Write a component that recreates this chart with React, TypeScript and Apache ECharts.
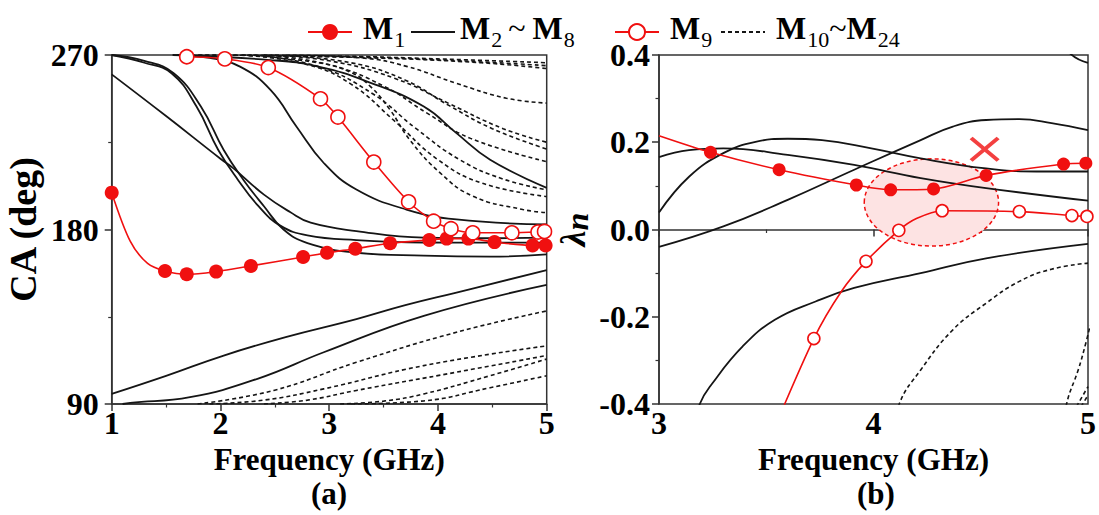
import React, { useEffect, useRef } from "react";
import * as echarts from "echarts";

const FONT = '"Liberation Serif", "Times New Roman", serif';

// ---------- Panel (a): CA (deg) vs Frequency (GHz) ----------
const xTicksA = [1, 2, 3, 4, 5];
const yTicksA = [90, 180, 270];
const m1A = [[1.0, 199], [1.17, 174], [1.33, 162.5], [1.49, 158.6], [1.69, 156.9], [1.96, 158.3], [2.28, 161.2], [2.76, 165.8], [2.98, 168], [3.24, 170.1], [3.56, 172.9], [3.92, 174.6], [4.08, 175.3], [4.28, 175.3], [4.52, 173.5], [4.87, 171.8], [4.99, 171.8]];
const m1APlain = [1.17, 1.33];
const m9A = [[1.69, 269.1], [2.04, 268], [2.44, 263.5], [2.92, 247.4], [3.08, 238], [3.41, 214.8], [3.73, 194.3], [3.96, 184.3], [4.12, 180.4], [4.32, 178.3], [4.68, 178.3], [4.92, 178.7], [4.98, 179]];
const solidA1 = [[1, 260], [1.5, 238.5], [2, 216.5], [2.12, 211.5], [2.4, 198], [2.64, 189], [2.83, 183.5], [3.25, 179.2], [3.87, 175.8], [4.5, 175.5], [5, 175.8]];
const solidA2 = [[1, 270], [1.3, 267], [1.57, 260.6], [1.82, 243.4], [2.03, 221], [2.21, 205.7], [2.4, 192], [2.58, 180], [2.8, 173], [3.25, 168], [3.87, 166.5], [4.48, 166], [5, 167.2]];
const solidA3 = [[1, 270], [1.3, 266], [1.55, 260.6], [1.78, 243.4], [1.98, 221], [2.16, 205.7], [2.35, 192], [2.55, 182], [2.8, 177], [3.25, 174.5], [3.87, 173.3], [5, 173.2]];
const solidA4 = [[1.56, 270], [1.9, 268.5], [2.18, 264], [2.46, 252], [2.7, 233], [2.95, 214.3], [3.25, 200.6], [3.71, 190.3], [4.17, 185.2], [5, 182.6]];
const solidA5 = [[1.6, 270], [2.46, 267.4], [2.9, 264], [3.35, 256.3], [3.87, 243.4], [4.17, 229.7], [4.48, 216], [5, 201.5]];
const solidA6 = [[1, 95.2], [1.5, 104.5], [2.03, 115], [2.6, 124.5], [3.25, 133.8], [3.7, 141], [4.17, 147.5], [5, 159]];
const solidA7 = [[1.1, 90], [1.17, 90.6], [1.72, 93.5], [2.34, 103], [2.95, 116.7], [3.87, 135.5], [5, 151.4]];
const dashA1 = [[1.6, 270], [3, 269.5], [4, 268], [5, 266]];
const dashA2 = [[1.8, 270], [3.2, 269], [4.2, 267], [5, 264.5]];
const dashA3 = [[2.0, 270], [3.4, 268.5], [4.4, 266], [5, 263]];
const dashA4 = [[2.6, 270], [3.3, 268.5], [3.72, 264], [4.17, 255.4], [4.63, 247.7], [5, 245.2]];
const dashA5 = [[2.5, 270], [3.2, 266], [3.7, 257], [4.1, 244], [4.5, 232], [5, 221.5]];
const dashA6 = [[2.4, 270], [3.0, 265], [3.5, 254], [3.9, 240], [4.3, 227], [5, 215]];
const dashA7 = [[2.3, 270], [2.9, 264], [3.4, 250], [3.8, 232], [4.2, 216], [4.6, 206], [5, 200.5]];
const dashA8 = [[2.2, 270], [2.8, 265], [3.2, 255], [3.6, 236], [4.0, 216], [4.4, 204], [5, 197]];
const dashA9 = [[2.2, 270], [2.9, 266], [3.2, 261], [3.38, 253.7], [3.56, 241.7], [3.74, 226.3], [4.02, 209.2], [4.32, 197.2], [4.78, 190.3], [5, 188.7]];
const dashA10 = [[2.4, 270], [3.0, 267], [3.6, 258], [4.1, 245], [4.6, 232], [5, 225]];
const dashA11 = [[1.79, 90], [2.49, 97], [3.25, 111.5], [4.17, 127], [5, 138]];
const dashA12 = [[1.9, 90], [2.4, 92], [2.95, 97.8], [3.87, 109.8], [5, 120]];
const dashA13 = [[2.4, 90], [2.8, 92], [3.25, 97], [4.17, 106.4], [5, 115]];
const dashA14 = [[3.1, 90], [3.5, 91.5], [3.87, 95.2], [4.48, 104.6], [5, 113.2]];
const dashA15 = [[3.2, 90], [3.87, 91.6], [4.48, 98.4], [5, 104.6]];

// ---------- Panel (b): lambda_n vs Frequency (GHz) ----------
const xTicksB = [3, 4, 5];
const yTicksB = [-0.4, -0.2, 0.0, 0.2, 0.4];
const m1B = [[3.0, 0.215], [3.24, 0.177], [3.56, 0.137], [3.92, 0.102], [4.08, 0.091], [4.28, 0.093], [4.525, 0.124], [4.886, 0.15], [4.99, 0.152]];
const m1BPlain = [3.0];
const m9B = [[3.5, -0.5], [3.722, -0.25], [3.85, -0.142], [3.965, -0.073], [4.118, -0.002], [4.2, 0.025], [4.32, 0.043], [4.68, 0.041], [4.925, 0.032], [4.995, 0.03]];
const m9BPlain = [3.5, 3.85, 4.2];
const solidB1 = [[3.0, 0.166], [3.14, 0.182], [3.3, 0.186], [3.6, 0.171], [3.91, 0.148], [4.22, 0.118], [4.525, 0.095], [5, 0.066]];
const solidB2 = [[3.0, 0.039], [3.14, 0.121], [3.3, 0.175], [3.45, 0.201], [3.6, 0.208], [3.76, 0.205], [3.99, 0.186], [4.22, 0.163], [4.525, 0.14], [4.76, 0.133], [5, 0.133]];
const solidB3 = [[3.0, -0.04], [3.3, 0.007], [3.6, 0.068], [3.91, 0.137], [4.22, 0.205], [4.37, 0.236], [4.525, 0.251], [4.68, 0.253], [4.83, 0.244], [5, 0.228]];
const solidB4 = [[4.85, 0.45], [4.92, 0.402], [5, 0.382]];
const solidB5 = [[3.13, -0.5], [3.19, -0.4], [3.25, -0.352], [3.39, -0.268], [3.54, -0.207], [3.73, -0.165], [3.91, -0.134], [4.22, -0.1], [4.525, -0.066], [5, -0.033]];
const dashB1 = [[4.08, -0.5], [4.12, -0.4], [4.22, -0.322], [4.37, -0.23], [4.525, -0.169], [4.68, -0.119], [4.83, -0.091], [5, -0.077]];
const dashB2 = [[4.87, -0.5], [4.9, -0.4], [4.955, -0.321], [4.99, -0.26], [5.01, -0.22]];
const dashB3 = [[4.93, -0.42], [5, -0.36]];
const dashB4 = [[4.95, -0.42], [5, -0.38]];
const crossMark = [[4.518, 0.184]];
// ellipse: centre f, centre lambda, half-width (GHz), half-height
const highlight = [[4.27, 0.062, 0.313, 0.1]];

const legendNames = ["M1", "M2~M8", "M9", "M10~M24"];

const RED = "#f01010";
const BLACK = "#151515";

const SOLID_ICON = "path://M0,0h44v2h-44z";
const DASH_ICON = "path://M0,0h4v2h-4z M7,0h4v2h-4z M14,0h4v2h-4z M21,0h4v2h-4z M28,0h4v2h-4z M35,0h4v2h-4z M42,0h2v2h-2z";

function App() {
  const ref = useRef<HTMLDivElement>(null);
  useEffect(() => {
    if (!ref.current) return;
    const chart = echarts.init(ref.current, null, { renderer: "svg" });

    const withMarks = (pts: number[][], plain: number[]) =>
      pts.map((p) => (plain.includes(p[0]) ? { value: p, symbol: "none" } : { value: p }));

    const solid = (data: number[][], idx: number) => ({
      name: "M2~M8",
      type: "line",
      xAxisIndex: idx,
      yAxisIndex: idx,
      data,
      symbol: "none",
      smooth: 0.45,
      lineStyle: { color: BLACK, width: 1.8 },
      itemStyle: { color: BLACK },
      z: 3,
    });
    const dashed = (data: number[][], idx: number) => ({
      name: "M10~M24",
      type: "line",
      xAxisIndex: idx,
      yAxisIndex: idx,
      data,
      symbol: "none",
      smooth: 0.45,
      lineStyle: { color: BLACK, width: 1.6, type: [4, 3] },
      itemStyle: { color: BLACK },
      z: 2,
    });

    const axisCommon = {
      axisLine: { show: true, lineStyle: { color: "#333", width: 1.5 } },
      axisTick: { show: true, inside: false, length: 7, lineStyle: { color: "#333", width: 1.5 } },
      minorTick: { show: true, splitNumber: 2, length: 3.5, lineStyle: { color: "#333", width: 1.2 } },
      splitLine: { show: false },
      axisLabel: { color: "#000", fontFamily: FONT, fontWeight: "bold", fontSize: 32, margin: 3 },
    };

    const xName = {
      name: "Frequency (GHz)",
      nameLocation: "middle",
      nameGap: 33,
      nameTextStyle: { color: "#000", fontFamily: FONT, fontWeight: "bold", fontSize: 31 },
    };

    const base = { fontFamily: FONT, color: "#000" };
    const legendText = {
      color: "#000",
      fontFamily: FONT,
      fontSize: 32,
      fontWeight: "bold",
      rich: {
        m: { ...base, fontSize: 32, fontWeight: "bold", padding: [0, 0, 8, 0] },
        mf: { ...base, fontSize: 32, fontWeight: "bold", padding: [0, 0, 8, 6] },
        tw: { ...base, fontSize: 32, fontWeight: "normal", padding: [0, 7, 8, 6] },
        tn: { ...base, fontSize: 32, fontWeight: "normal", padding: [0, 0, 8, 0] },
        s: { ...base, fontSize: 22, fontWeight: "normal", padding: [14, 0, 0, 1] },
      },
    };
    const fmt = (name: string) => {
      if (name === "M1") return "{mf|M}{s|1}";
      if (name === "M2~M8") return "{m|M}{s|2}{tw|~}{m|M}{s|8}";
      if (name === "M9") return "{mf|M}{s|9}";
      return "{mf|M}{s|10}{tn|~}{m|M}{s|24}";
    };
    const legendBase = { top: 7, itemWidth: 44, itemHeight: 20, formatter: fmt, textStyle: legendText };

    const yLabel = { color: "#000", fontFamily: FONT, fontWeight: "bold", fontSize: 32 };

    const option: any = {
      animation: false,
      backgroundColor: "#fff",
      legend: [
        { ...legendBase, left: 302, data: [legendNames[0]] },
        { ...legendBase, left: 406, data: [{ name: legendNames[1], icon: SOLID_ICON }] },
        { ...legendBase, left: 609, data: [legendNames[2]] },
        { ...legendBase, left: 716, data: [{ name: legendNames[3], icon: DASH_ICON }] },
      ],
      grid: [
        { left: 111.7, top: 55, width: 435, height: 349, show: true, borderColor: "#333", borderWidth: 1.5, backgroundColor: "transparent" },
        { left: 659, top: 55, width: 434, height: 349, show: true, borderColor: "#333", borderWidth: 1.5, backgroundColor: "transparent" },
      ],
      xAxis: [
        { type: "value", gridIndex: 0, min: xTicksA[0], max: xTicksA[xTicksA.length - 1], interval: 1, ...axisCommon, ...xName },
        { type: "value", gridIndex: 1, min: xTicksB[0], max: xTicksB[xTicksB.length - 1], interval: 1, ...axisCommon, ...xName },
      ],
      yAxis: [
        {
          type: "value", gridIndex: 0, min: yTicksA[0], max: yTicksA[yTicksA.length - 1], interval: 90, ...axisCommon,
          axisLabel: { ...yLabel, margin: 13 },
          name: "CA (deg)", nameLocation: "middle", nameGap: 70,
          nameTextStyle: { color: "#000", fontFamily: FONT, fontWeight: "bold", fontSize: 38 },
        },
        {
          type: "value", gridIndex: 1, min: yTicksB[0], max: yTicksB[yTicksB.length - 1], interval: 0.2, ...axisCommon,
          axisLabel: { ...yLabel, margin: 9, formatter: (v: number) => v.toFixed(1) },
          name: "{l|λ}{n|n}", nameLocation: "middle", nameGap: 66,
          nameTextStyle: {
            color: "#000", fontFamily: FONT, fontSize: 36,
            rich: {
              l: { ...base, fontSize: 36, fontStyle: "italic", fontWeight: "bold" },
              n: { ...base, fontSize: 32, fontStyle: "italic", fontWeight: "bold", padding: [8, 0, 0, 0] },
            },
          },
        },
      ],
      series: [
        {
          name: "M1", type: "line", xAxisIndex: 0, yAxisIndex: 0,
          data: withMarks(m1A, m1APlain),
          symbol: "circle", symbolSize: 14, smooth: 0.3,
          lineStyle: { color: RED, width: 1.6 }, itemStyle: { color: RED }, z: 5,
        },
        solid(solidA1, 0), solid(solidA2, 0), solid(solidA3, 0), solid(solidA4, 0), solid(solidA5, 0), solid(solidA6, 0), solid(solidA7, 0),
        {
          name: "M9", type: "line", xAxisIndex: 0, yAxisIndex: 0,
          data: m9A,
          symbol: "circle", symbolSize: 14, smooth: 0.3,
          lineStyle: { color: RED, width: 1.6 }, itemStyle: { color: "#fff", borderColor: RED, borderWidth: 1.6 }, z: 5,
        },
        dashed(dashA1, 0), dashed(dashA2, 0), dashed(dashA3, 0), dashed(dashA4, 0), dashed(dashA5, 0),
        dashed(dashA6, 0), dashed(dashA7, 0), dashed(dashA8, 0), dashed(dashA9, 0), dashed(dashA10, 0),
        dashed(dashA11, 0), dashed(dashA12, 0), dashed(dashA13, 0), dashed(dashA14, 0), dashed(dashA15, 0),
        // panel b
        {
          type: "custom", xAxisIndex: 1, yAxisIndex: 1, data: highlight, z: 1, silent: true,
          renderItem: (params: any, api: any) => {
            const c = api.coord([api.value(0), api.value(1)]);
            const s = api.size([api.value(2), api.value(3)]);
            return {
              type: "ellipse",
              shape: { cx: c[0], cy: c[1], rx: s[0], ry: s[1] },
              style: { fill: "#fde3e3", stroke: RED, lineWidth: 1.5, lineDash: [4, 3] },
            };
          },
        },
        {
          name: "M1", type: "line", xAxisIndex: 1, yAxisIndex: 1,
          data: withMarks(m1B, m1BPlain),
          symbol: "circle", symbolSize: 13, smooth: 0.3,
          lineStyle: { color: RED, width: 1.6 }, itemStyle: { color: RED }, z: 5,
        },
        {
          name: "M9", type: "line", xAxisIndex: 1, yAxisIndex: 1,
          data: withMarks(m9B, m9BPlain),
          symbol: "circle", symbolSize: 12, smooth: 0.3,
          lineStyle: { color: RED, width: 1.6 }, itemStyle: { color: "#fff", borderColor: RED, borderWidth: 1.6 }, z: 5,
        },
        solid(solidB1, 1), solid(solidB2, 1), solid(solidB3, 1), solid(solidB4, 1), solid(solidB5, 1),
        dashed(dashB1, 1), dashed(dashB2, 1), dashed(dashB3, 1), dashed(dashB4, 1),
        {
          type: "scatter", xAxisIndex: 1, yAxisIndex: 1, data: crossMark, z: 6,
          symbol: "path://M2,0 L10,8 L18,0 L20,2 L12,10 L20,18 L18,20 L10,12 L2,20 L0,18 L8,10 L0,2 Z",
          symbolSize: [30, 25], itemStyle: { color: RED },
        },
      ],
      graphic: [
        { type: "text", left: 311, top: 478, style: { text: "(a)", fontFamily: FONT, fontWeight: "bold", fontSize: 31, fill: "#000" } },
        { type: "text", left: 857, top: 478, style: { text: "(b)", fontFamily: FONT, fontWeight: "bold", fontSize: 31, fill: "#000" } },
      ],
    };
    chart.setOption(option);
    return () => chart.dispose();
  }, []);
  return <div ref={ref} style={{ position: "fixed", left: 0, top: 0, width: 1099, height: 515 }} />;
}

export default App;
